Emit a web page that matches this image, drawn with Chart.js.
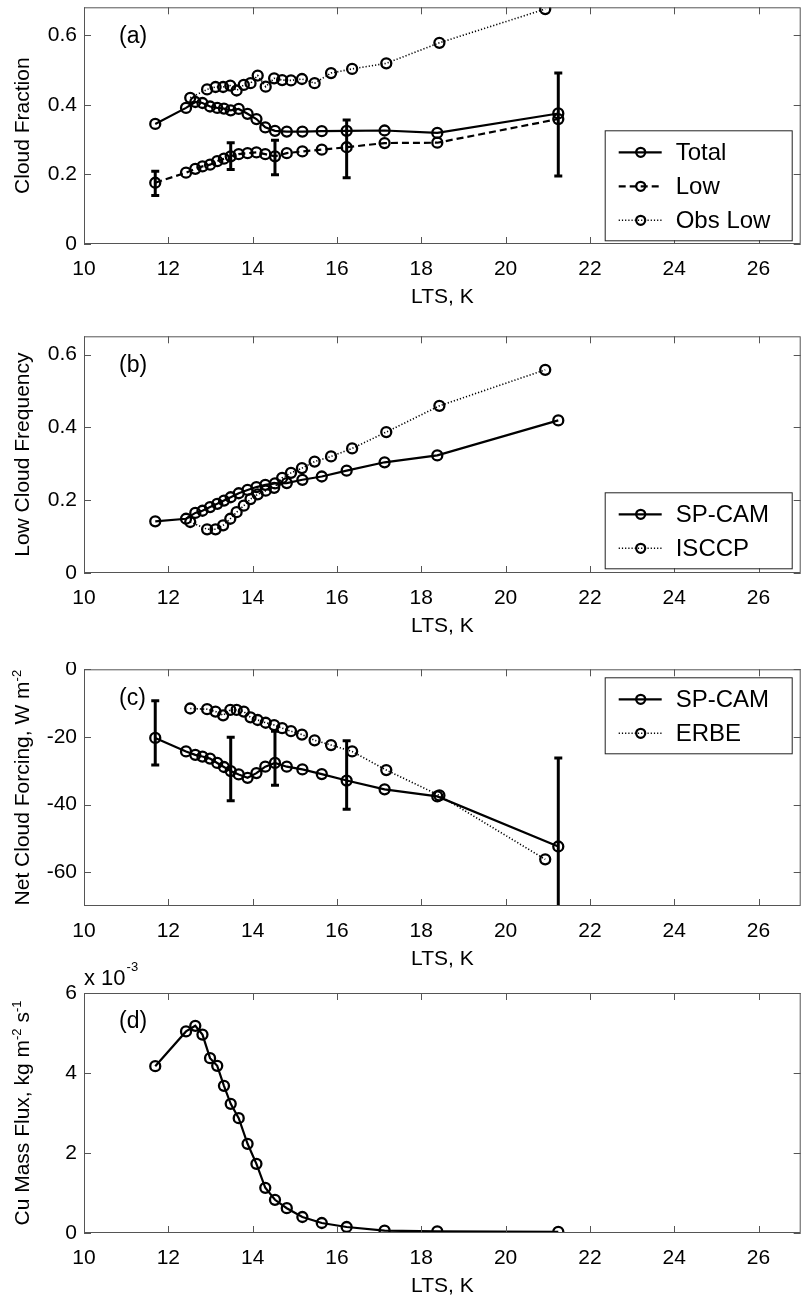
<!DOCTYPE html>
<html lang="en">
<head>
<meta charset="UTF-8">
<title>LTS composites</title>
<style>
  * { margin: 0; padding: 0; }
  body { width: 808px; height: 1303px; background: #fff; position: relative; overflow: hidden; }
  canvas { position: absolute; left: 0; }
</style>
</head>
<body>
<canvas id="chartA" width="808" height="314" style="top:0px"></canvas>
<canvas id="chartB" width="808" height="314" style="top:329px"></canvas>
<canvas id="chartC" width="808" height="314" style="top:662px"></canvas>
<canvas id="chartD" width="808" height="348" style="top:955px"></canvas>
<script src="https://cdn.jsdelivr.net/npm/chart.js@4.4.0/dist/chart.umd.min.js"></script>
<script>
  // ---- data ----
  const xTicks = [10, 12, 14, 16, 18, 20, 22, 24, 26];
  const fracTicks = [0, 0.2, 0.4, 0.6];
  const ncfTicks = [-60, -40, -20, 0];
  const fluxTicks = [0, 2, 4, 6];

  // SP-CAM LTS bins
  const ltsModel = [11.69, 12.42, 12.64, 12.81, 12.99, 13.16, 13.32, 13.48, 13.67, 13.88,
    14.09, 14.30, 14.53, 14.81, 15.18, 15.64, 16.23, 17.13, 18.38, 21.25];
  // observed LTS bins
  const ltsObs = [12.52, 12.92, 13.12, 13.30, 13.47, 13.62, 13.79, 13.95, 14.12, 14.31,
    14.51, 14.70, 14.91, 15.17, 15.47, 15.86, 16.36, 17.17, 18.43, 20.94];

  // (a)
  const totalCloud = [0.345, 0.391, 0.408, 0.405, 0.395, 0.391, 0.389, 0.384, 0.388, 0.374,
    0.359, 0.335, 0.325, 0.323, 0.323, 0.324, 0.325, 0.326, 0.319, 0.375];
  const lowCloud = [0.176, 0.205, 0.216, 0.223, 0.228, 0.238, 0.245, 0.252, 0.258, 0.261,
    0.263, 0.258, 0.252, 0.261, 0.266, 0.271, 0.278, 0.290, 0.291, 0.359];
  const obsLowCloud = [0.420, 0.444, 0.451, 0.451, 0.455, 0.441, 0.457, 0.462, 0.484, 0.452,
    0.476, 0.471, 0.470, 0.474, 0.462, 0.491, 0.503, 0.519, 0.578, 0.675];
  const lowErrLts = [11.69, 13.48, 14.53, 16.23, 21.25];
  const lowErrMin = [0.139, 0.214, 0.199, 0.190, 0.195];
  const lowErrMax = [0.209, 0.291, 0.298, 0.356, 0.491];

  // (b)
  const lowFreqModel = [0.142, 0.149, 0.165, 0.171, 0.181, 0.190, 0.199, 0.208, 0.219, 0.228,
    0.236, 0.242, 0.246, 0.247, 0.256, 0.265, 0.281, 0.304, 0.323, 0.419];
  const lowFreqIsccp = [0.140, 0.120, 0.120, 0.131, 0.149, 0.167, 0.185, 0.203, 0.216, 0.226,
    0.234, 0.261, 0.275, 0.288, 0.306, 0.320, 0.342, 0.387, 0.459, 0.558];

  // (c)
  const ncfModel = [-20.3, -24.3, -25.3, -25.8, -26.4, -27.7, -28.9, -30.1, -31.1, -32.1,
    -30.7, -28.8, -27.7, -28.8, -29.6, -31.0, -32.9, -35.5, -37.6, -52.4];
  const ncfErbe = [-11.6, -11.8, -12.5, -13.6, -12.0, -12.0, -12.5, -14.2, -15.0, -15.8,
    -16.5, -17.4, -18.3, -19.3, -21.0, -22.4, -24.3, -29.8, -37.3, -56.2];
  const ncfErrLts = [11.69, 13.48, 14.53, 16.23, 21.25];
  const ncfErrMin = [-28.3, -38.9, -34.3, -41.4, -78.6];
  const ncfErrMax = [-9.3, -20.1, -18.3, -21.1, -26.2];

  // (d) x 10^-3
  const cuMassFlux = [4.17, 5.04, 5.18, 4.96, 4.37, 4.18, 3.68, 3.23, 2.87, 2.23,
    1.73, 1.13, 0.83, 0.62, 0.40, 0.25, 0.15, 0.06, 0.04, 0.03];

  // ---- styling ----
  const FONT = '"Liberation Sans", Arial, Helvetica, sans-serif';
  const tickFont = { family: FONT, size: 21 };
  const AXIS = '#555';

  const pts = (xs, ys) => xs.map((x, i) => ({ x: x, y: ys[i] }));

  const solid = { borderColor: '#000', borderWidth: 2.2, borderDash: [] };
  const dashed = { borderColor: '#000', borderWidth: 2.2, borderDash: [7, 4] };
  const dotted = { borderColor: '#000', borderWidth: 1.6, borderDash: [1.2, 2] };

  function series(label, xs, ys, style) {
    return Object.assign({
      label: label,
      data: pts(xs, ys),
      pointRadius: 5,
      pointBorderWidth: 2.3,
      pointBorderColor: '#000',
      pointBackgroundColor: 'rgba(0,0,0,0)',
      fill: false,
      tension: 0
    }, style);
  }

  // box + inward ticks, MATLAB style
  const boxPlugin = {
    id: 'matBox',
    afterDraw(chart) {
      const { ctx, chartArea: a, scales } = chart;
      ctx.save();
      ctx.strokeStyle = AXIS;
      ctx.lineWidth = 1;
      ctx.strokeRect(a.left + 0.5, a.top + 0.5, a.right - a.left - 1, a.bottom - a.top - 1);
      ctx.beginPath();
      scales.x.ticks.forEach(t => {
        const px = Math.round(scales.x.getPixelForValue(t.value)) + 0.5;
        ctx.moveTo(px, a.bottom); ctx.lineTo(px, a.bottom - 7);
        ctx.moveTo(px, a.top); ctx.lineTo(px, a.top + 7);
      });
      scales.y.ticks.forEach(t => {
        const py = Math.round(scales.y.getPixelForValue(t.value)) + 0.5;
        ctx.moveTo(a.left, py); ctx.lineTo(a.left + 7, py);
        ctx.moveTo(a.right, py); ctx.lineTo(a.right - 7, py);
      });
      ctx.stroke();
      ctx.restore();
    }
  };

  const errPlugin = {
    id: 'errBars',
    afterDatasetsDraw(chart, args, opts) {
      if (!opts.xs) return;
      const { ctx, chartArea: a, scales } = chart;
      ctx.save();
      ctx.beginPath();
      ctx.rect(a.left, a.top, a.right - a.left, a.bottom - a.top);
      ctx.clip();
      ctx.strokeStyle = '#000';
      ctx.lineWidth = 3;
      ctx.beginPath();
      opts.xs.forEach((x, i) => {
        const px = scales.x.getPixelForValue(x);
        const y0 = scales.y.getPixelForValue(opts.lo[i]);
        const y1 = scales.y.getPixelForValue(opts.hi[i]);
        ctx.moveTo(px, y0); ctx.lineTo(px, y1);
        ctx.moveTo(px - 4, y0); ctx.lineTo(px + 4, y0);
        ctx.moveTo(px - 4, y1); ctx.lineTo(px + 4, y1);
      });
      ctx.stroke();
      ctx.restore();
    }
  };

  const textPlugin = {
    id: 'panelText',
    afterDraw(chart, args, opts) {
      const { ctx, chartArea: a } = chart;
      ctx.save();
      ctx.fillStyle = '#000';
      // panel letter
      ctx.font = '23px ' + FONT;
      ctx.textBaseline = 'middle';
      ctx.textAlign = 'left';
      ctx.fillText(opts.tag, a.left + 35, a.top + 29);
      // y title with superscripts
      ctx.translate(opts.titleX, (a.top + a.bottom) / 2);
      ctx.rotate(-Math.PI / 2);
      ctx.textBaseline = 'alphabetic';
      let w = 0;
      opts.title.forEach(p => {
        ctx.font = (p.sup ? '13px ' : '21px ') + FONT;
        w += ctx.measureText(p.t).width;
      });
      let x = -w / 2;
      opts.title.forEach(p => {
        ctx.font = (p.sup ? '13px ' : '21px ') + FONT;
        ctx.fillText(p.t, x, p.sup ? -1 : 7);
        x += ctx.measureText(p.t).width;
      });
      ctx.restore();
      if (opts.exponent) {
        ctx.save();
        ctx.fillStyle = '#000';
        ctx.textBaseline = 'alphabetic';
        ctx.font = '22px ' + FONT;
        ctx.fillText('x 10', a.left, a.top - 8);
        const ew = ctx.measureText('x 10').width;
        ctx.font = '13px ' + FONT;
        ctx.fillText(opts.exponent, a.left + ew + 1, a.top - 22);
        ctx.restore();
      }
    }
  };

  const legendPlugin = {
    id: 'boxLegend',
    afterDraw(chart, args, opts) {
      if (!opts.items) return;
      const { ctx, chartArea: a } = chart;
      const x0 = a.right - 196, y0 = a.top + opts.top;
      const h = 22 + 34 * (opts.items.length - 1) + 20;
      ctx.save();
      ctx.fillStyle = '#fff';
      ctx.fillRect(x0, y0, 187, h);
      ctx.strokeStyle = '#222';
      ctx.lineWidth = 1;
      ctx.strokeRect(x0 + 0.5, y0 + 0.5, 187, h);
      opts.items.forEach((it, i) => {
        const cy = y0 + 22 + 34 * i;
        ctx.strokeStyle = '#000';
        ctx.lineWidth = it.width;
        ctx.setLineDash(it.dash);
        ctx.beginPath();
        ctx.moveTo(x0 + 14, cy); ctx.lineTo(x0 + 57, cy);
        ctx.stroke();
        ctx.setLineDash([]);
        ctx.lineWidth = 2.3;
        ctx.beginPath();
        ctx.arc(x0 + 36, cy, 4.5, 0, Math.PI * 2);
        ctx.stroke();
        ctx.fillStyle = '#000';
        ctx.font = '24px ' + FONT;
        ctx.textBaseline = 'middle';
        ctx.fillText(it.label, x0 + 71, cy + 1);
      });
      ctx.restore();
    }
  };

  function makeChart(id, cfg) {
    const zeroPad = s => { s.paddingTop = 0; s.paddingBottom = 0; s.paddingLeft = 0; s.paddingRight = 0; };
    return new Chart(document.getElementById(id), {
      type: 'line',
      data: { datasets: cfg.datasets },
      options: {
        responsive: false,
        animation: false,
        events: [],
        layout: { padding: { top: cfg.padTop, right: 3, left: 0, bottom: 0 } },
        plugins: {
          legend: { display: false },
          tooltip: { enabled: false },
          errBars: cfg.err || {},
          boxLegend: cfg.legend || {},
          panelText: cfg.text
        },
        scales: {
          x: {
            type: 'linear', min: 10, max: 27,
            afterBuildTicks: s => { s.ticks = xTicks.map(v => ({ value: v })); },
            afterFit: s => { s.height = 70; zeroPad(s); },
            grid: { display: false, drawTicks: false },
            border: { display: false },
            ticks: { font: tickFont, color: '#000', padding: 13, maxRotation: 0, autoSkip: false,
              callback: v => String(v) },
            title: { display: true, text: 'LTS, K', font: { family: FONT, size: 21 }, color: '#000',
              padding: { top: 0, bottom: 4 } }
          },
          y: {
            type: 'linear', min: cfg.yMin, max: cfg.yMax,
            afterBuildTicks: s => { s.ticks = cfg.yTicks.map(v => ({ value: v })); },
            afterFit: s => { s.width = 84; zeroPad(s); },
            grid: { display: false, drawTicks: false },
            border: { display: false },
            ticks: { font: tickFont, color: '#000', padding: 7, autoSkip: false,
              callback: v => String(v) }
          }
        }
      },
      plugins: [errPlugin, boxPlugin, legendPlugin, textPlugin]
    });
  }

  makeChart('chartA', {
    padTop: 4, yMin: 0, yMax: 0.68, yTicks: fracTicks,
    datasets: [
      series('Total', ltsModel, totalCloud, solid),
      series('Low', ltsModel, lowCloud, dashed),
      series('Obs Low', ltsObs, obsLowCloud, dotted)
    ],
    err: { xs: lowErrLts, lo: lowErrMin, hi: lowErrMax },
    legend: { top: 123, items: [
      { label: 'Total', dash: [], width: 2.2 },
      { label: 'Low', dash: [7, 4], width: 2.2 },
      { label: 'Obs Low', dash: [1.2, 2], width: 1.6 }
    ] },
    text: { tag: '(a)', titleX: 22, title: [{ t: 'Cloud Fraction' }] }
  });

  makeChart('chartB', {
    padTop: 4, yMin: 0, yMax: 0.65, yTicks: fracTicks,
    datasets: [
      series('SP-CAM', ltsModel, lowFreqModel, solid),
      series('ISCCP', ltsObs, lowFreqIsccp, dotted)
    ],
    legend: { top: 156, items: [
      { label: 'SP-CAM', dash: [], width: 2.2 },
      { label: 'ISCCP', dash: [1.2, 2], width: 1.6 }
    ] },
    text: { tag: '(b)', titleX: 22, title: [{ t: 'Low Cloud Frequency' }] }
  });

  makeChart('chartC', {
    padTop: 4, yMin: -70, yMax: 0, yTicks: ncfTicks,
    datasets: [
      series('SP-CAM', ltsModel, ncfModel, solid),
      series('ERBE', ltsObs, ncfErbe, dotted)
    ],
    err: { xs: ncfErrLts, lo: ncfErrMin, hi: ncfErrMax },
    legend: { top: 8, items: [
      { label: 'SP-CAM', dash: [], width: 2.2 },
      { label: 'ERBE', dash: [1.2, 2], width: 1.6 }
    ] },
    text: { tag: '(c)', titleX: 22, title: [{ t: 'Net Cloud Forcing, W m' }, { t: '-2', sup: true }] }
  });

  makeChart('chartD', {
    padTop: 38, yMin: 0, yMax: 6, yTicks: fluxTicks,
    datasets: [
      series('SP-CAM', ltsModel, cuMassFlux, solid)
    ],
    text: { tag: '(d)', titleX: 22, exponent: '-3',
      title: [{ t: 'Cu Mass Flux, kg m' }, { t: '-2', sup: true }, { t: ' s' }, { t: '-1', sup: true }] }
  });
</script>
</body>
</html>
